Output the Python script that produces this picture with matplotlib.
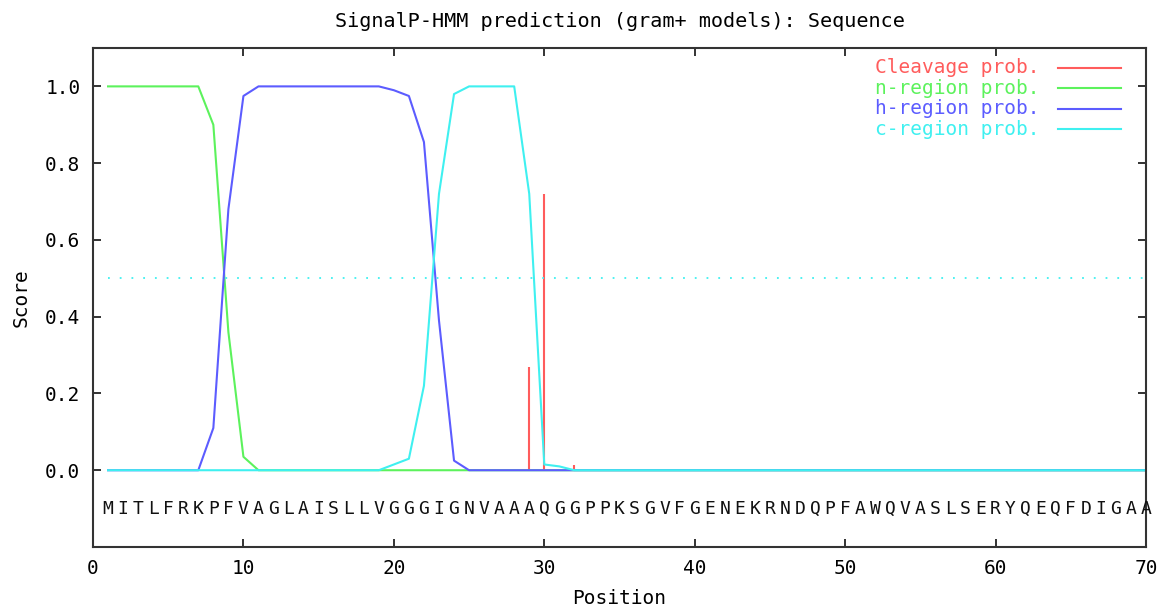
import numpy as np
import matplotlib
matplotlib.use("Agg")
import matplotlib.pyplot as plt
from matplotlib.lines import Line2D

# SignalP-HMM (gram+ models) output, one value per residue
SEQUENCE = "MITLFRKPFVAGLAISLLVGGGIGNVAAAQGGPPKSGVFGENEKRNDQPFAWQVASLSERYQEQFDIGAA"
POSITIONS = np.arange(1, len(SEQUENCE) + 1)

N_REGION = [1.0, 1.0, 1.0, 1.0, 1.0, 1.0, 1.0, 0.90, 0.36, 0.035] + [0.0] * 60
H_REGION = ([0.0] * 7 + [0.11, 0.68, 0.975] + [1.0] * 9
            + [0.99, 0.975, 0.855, 0.39, 0.025] + [0.0] * 46)
C_REGION = ([0.0] * 19 + [0.015, 0.03, 0.22, 0.72, 0.98, 1.0, 1.0, 1.0, 1.0,
                          0.72, 0.015, 0.01] + [0.0] * 39)
CLEAVAGE = [0.0] * 28 + [0.27, 0.72, 0.0, 0.013] + [0.0] * 38
THRESHOLD = 0.5

TITLE = "SignalP-HMM prediction (gram+ models): Sequence"
X_TICKS = [0, 10, 20, 30, 40, 50, 60, 70]
Y_TICKS = [0.0, 0.2, 0.4, 0.6, 0.8, 1.0]

RED, GREEN, BLUE, CYAN = "#ff5c5c", "#5cf25c", "#5c5cff", "#3ff0f0"
FONT = "DejaVu Sans Mono"
plt.rcParams["font.family"] = FONT

fig = plt.figure(figsize=(11.74, 6.09), dpi=100)
ax = fig.add_axes([93 / 1174, 1 - 547 / 609, (1146 - 93) / 1174, (547 - 48) / 609])

# impulses for cleavage, lines for regions (cyan drawn last, on top)
nz = [(p, v) for p, v in zip(POSITIONS, CLEAVAGE) if v > 0]
ax.vlines([p for p, _ in nz], 0, [v for _, v in nz], color=RED, lw=1.5)
ax.plot(POSITIONS, N_REGION, color=GREEN, lw=1.5)
ax.plot(POSITIONS, H_REGION, color=BLUE, lw=1.5)
ax.plot(POSITIONS, C_REGION, color=CYAN, lw=1.5)
ax.hlines(THRESHOLD, POSITIONS[0], POSITIONS[-1], color=CYAN, lw=1.3,
          linestyles=[(0, (1, 5.5))])

# sequence letters under the curves
for p, aa in zip(POSITIONS, SEQUENCE):
    ax.text(p, -0.1, aa, ha="center", va="center", fontsize=13, color="#111111")

ax.set_xlim(0, 70)
ax.set_ylim(-0.2, 1.1)
ax.set_xticks(X_TICKS)
ax.set_yticks(Y_TICKS)
ax.set_yticklabels([f"{t:.1f}" for t in Y_TICKS])
ax.tick_params(direction="in", length=6, width=1.4, top=True, right=True,
               labelsize=14, pad=9, color="#333333")
for s in ax.spines.values():
    s.set_linewidth(1.5)
    s.set_color("#333333")

ax.set_title(TITLE, fontsize=14.5, pad=15)
ax.set_xlabel("Position", fontsize=14)
ax.xaxis.set_label_coords(0.5, -(589 - 547) / 499)
ax.set_ylabel("Score", fontsize=14, va="center")
ax.yaxis.set_label_coords(-(93 - 21) / 1053, 0.5)

# legend: coloured labels, sample line to the right
legend_rows = [("Cleavage prob.", RED), ("n-region prob.", GREEN),
               ("h-region prob.", BLUE), ("c-region prob.", CYAN)]
for i, (lab, col) in enumerate(legend_rows):
    yy = 0.96 - i * 0.041
    ax.text(0.899, yy, lab, transform=ax.transAxes, ha="right", va="center",
            fontsize=14, color=col)
    ax.add_line(Line2D([0.9165, 0.976], [yy, yy], transform=ax.transAxes,
                       color=col, lw=1.5))

fig.savefig("out.png", dpi=100)
